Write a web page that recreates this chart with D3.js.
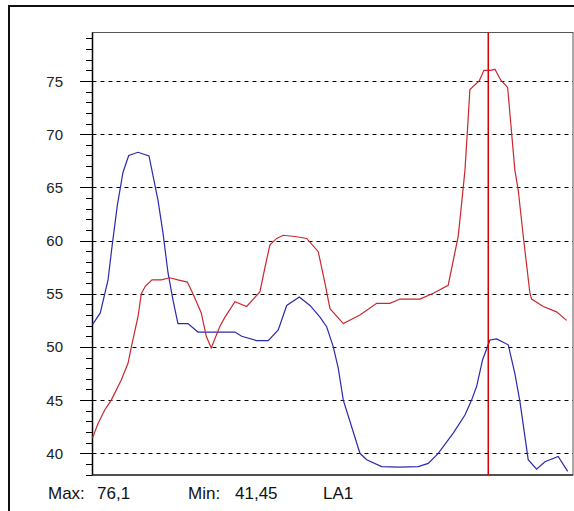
<!DOCTYPE html>
<html><head><meta charset="utf-8">
<script src="https://cdn.jsdelivr.net/npm/d3@7"></script>
<style>html,body{margin:0;padding:0;background:#fff;overflow:hidden}</style>
</head><body>
<svg id="c" width="574" height="511"></svg>
<script>
// Data (x in sample units, y in value units)
const blueX = [0,0.77,1.54,1.93,2.46,3.02,3.59,4.51,5.6,6.49,6.99,7.48,7.98,8.47,9.46,10.45,14.12,14.79,16.27,17.42,18.41,19.25,20.5,21.56,22.55,23.21,23.87,24.36,24.86,26.51,27.18,28.66,30.38,32.29,33.28,34.27,35.76,36.92,37.58,38.08,38.67,39.4,40.06,41.21,41.87,42.37,43.19,44.02,44.85,46.16,47.1];
const blueY = [52.1,53.2,56.3,59.4,63.3,66.4,68.0,68.3,67.95,63.8,60.7,57.0,54.4,52.2,52.2,51.4,51.4,51.0,50.6,50.6,51.6,53.9,54.7,53.9,52.8,51.9,50.0,48.0,45.0,40.0,39.4,38.75,38.7,38.75,39.05,40.0,41.9,43.6,45.0,46.3,48.8,50.65,50.75,50.2,47.5,44.85,39.4,38.5,39.2,39.7,38.3];
const redX = [0,0.55,1.21,1.86,2.85,3.52,3.85,4.51,4.84,5.23,5.9,6.82,7.65,8.47,9.4,9.96,10.78,11.28,11.77,12.61,13.13,14.12,15.28,16.6,17.1,17.59,18.26,18.91,20.24,21.23,22.38,23.04,23.54,24.86,26.51,28.17,29.48,30.48,32.46,33.78,35.26,36.25,36.59,36.92,37.15,37.41,38.33,38.8,39.46,39.89,40.46,41.15,41.87,42.2,42.7,43.36,43.53,44.68,46.0,47.0];
const redY = [41.45,42.8,44.07,45.0,46.9,48.46,50.0,52.84,55.0,55.7,56.3,56.3,56.5,56.3,56.1,55.0,53.2,51.0,49.9,51.9,52.8,54.25,53.8,55.2,57.5,59.6,60.2,60.5,60.36,60.2,58.95,56.0,53.6,52.2,53.0,54.1,54.1,54.5,54.5,55.05,55.8,60.4,63.5,66.6,70.1,74.2,75.0,76.0,76.0,76.1,75.1,74.4,66.6,64.75,60.4,55.05,54.5,53.8,53.3,52.5];
const cursorX = 39.23;
const majorTicks = [40,45,50,55,60,65,70,75];
const minorTicks = d3.range(38,80);
const footer = [["Max:", "76,1"], ["Min:", "41,45"], ["LA1", ""]];

const svg = d3.select("#c");
const L = 92.5, R = 573, T = 32.5, B = 475;
const x = d3.scaleLinear().domain([0, 47.63]).range([L, R]);
const y = d3.scaleLinear().domain([37.96, 79.56]).range([B, T]);

// outer frame
svg.append("path").attr("d", `M9,520 L9,6 L580,6`).attr("fill","none").attr("stroke","#111").attr("stroke-width",2);

// plot box
svg.append("rect").attr("x",L).attr("y",T).attr("width",R-L).attr("height",B-T)
  .attr("fill","#fff").attr("stroke","#555").attr("stroke-width",1);

// grid
svg.append("g").selectAll("line").data(majorTicks).join("line")
  .attr("x1",L).attr("x2",R).attr("y1",d=>Math.round(y(d))+0.5).attr("y2",d=>Math.round(y(d))+0.5)
  .attr("stroke","#000").attr("stroke-width",1).attr("stroke-dasharray","4,4");

// axis ticks
svg.append("g").selectAll("line").data(minorTicks).join("line")
  .attr("x1",d=> d%5===0 ? 80 : 86).attr("x2",L)
  .attr("y1",d=>Math.round(y(d))+0.5).attr("y2",d=>Math.round(y(d))+0.5)
  .attr("stroke","#000").attr("stroke-width",1);
svg.append("line").attr("x1",L).attr("x2",L).attr("y1",T).attr("y2",B+0.5).attr("stroke","#000").attr("stroke-width",1.5);
svg.append("line").attr("x1",L).attr("x2",R).attr("y1",B).attr("y2",B).attr("stroke","#333").attr("stroke-width",1.5);

svg.append("g").selectAll("text").data(majorTicks).join("text")
  .attr("x",63).attr("y",d=>y(d)+5.5).attr("text-anchor","end")
  .attr("font-family","Liberation Sans, Arial, sans-serif").attr("font-size",15).attr("fill","#222")
  .text(d=>d);

// lines
const line = d3.line().x(d=>x(d[0])).y(d=>y(d[1]));
svg.append("path").datum(blueX.map((v,i)=>[v,blueY[i]])).attr("d",line)
  .attr("fill","none").attr("stroke","#2a2aae").attr("stroke-width",1.2);
svg.append("path").datum(redX.map((v,i)=>[v,redY[i]])).attr("d",line)
  .attr("fill","none").attr("stroke","#c8282e").attr("stroke-width",1.2);

// cursor
svg.append("line").attr("x1",x(cursorX)).attr("x2",x(cursorX)).attr("y1",T).attr("y2",B)
  .attr("stroke","#d80000").attr("stroke-width",1.5);

// footer
const fpos = [[48,97],[188,235],[323,0]];
const fg = svg.append("g").attr("font-family","Liberation Sans, Arial, sans-serif").attr("font-size",17).attr("fill","#111");
footer.forEach((f,i)=>{
  fg.append("text").attr("x",fpos[i][0]).attr("y",499).text(f[0]);
  if (f[1]) fg.append("text").attr("x",fpos[i][1]).attr("y",499).text(f[1]);
});
</script>
</body></html>
